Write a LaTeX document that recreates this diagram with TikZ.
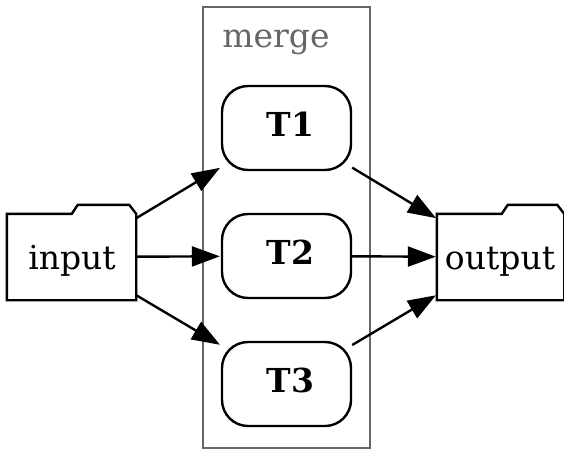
\documentclass[tikz,border=0pt]{standalone}
\usepackage{fontspec}
\setmainfont{DejaVu Serif}
\usetikzlibrary{arrows.meta,calc}
\definecolor{clustergray}{HTML}{666666}
\tikzset{
  every node/.style={font=\fontsize{33}{36}\selectfont},
  txt/.style={anchor=base,inner sep=0pt},
  cluster/.style={draw=clustergray,line width=2pt,minimum width=167pt,minimum height=441pt,inner sep=0pt},
  tbox/.style={draw,line width=2.4pt,rounded corners=26pt,minimum width=129pt,minimum height=84pt,inner sep=0pt},
  folderbody/.style={minimum height=86pt,inner sep=0pt},
  folderline/.style={line width=2.4pt,line join=miter},
  edge/.style={line width=2.4pt,-{Triangle[length=28pt,width=20pt]},shorten >=1pt},
}
\begin{document}
\begin{tikzpicture}[x=1pt,y=-1pt]
\clip (0,0) rectangle (564,450);
\useasboundingbox (0,0) rectangle (564,450);
\node[cluster] (merge) at (286.5,227.5) {};
\node[txt,text=clustergray] (mergelabel) at (276,47) {merge};
\node[tbox] (T1) at (286.5,128) {};
\node[tbox] (T2) at (286.5,256) {};
\node[tbox] (T3) at (286.5,384) {};
\node[txt,font=\fontsize{33}{36}\selectfont\bfseries] (T1t) at (290.5,136) {T1};
\node[txt,font=\fontsize{33}{36}\selectfont\bfseries] (T2t) at (290.5,264) {T2};
\node[txt,font=\fontsize{33}{36}\selectfont\bfseries] (T3t) at (290.5,392) {T3};
\node[folderbody,minimum width=129pt] (input) at (71.5,257) {};
\node[folderbody,minimum width=127pt] (output) at (500.5,257) {};
\node[txt] (inputt) at (72,269) {input};
\node[txt] (outputt) at (500,269) {output};
\foreach \n in {input,output}{
  \draw[folderline] (\n.north west) -- ($(\n.north west)+(65,0)$) -- ($(\n.north west)+(71,-9)$)
    -- ($(\n.north east)+(-7,-9)$) -- (\n.north east) -- (\n.south east) -- (\n.south west) -- cycle;
}
\draw[edge] (input) -- (T1);
\draw[edge] (input) -- (T2);
\draw[edge] (input) -- (T3);
\draw[edge] (T1) -- (output);
\draw[edge] (T2) -- (output);
\draw[edge] (T3) -- (output);
\end{tikzpicture}
\end{document}
